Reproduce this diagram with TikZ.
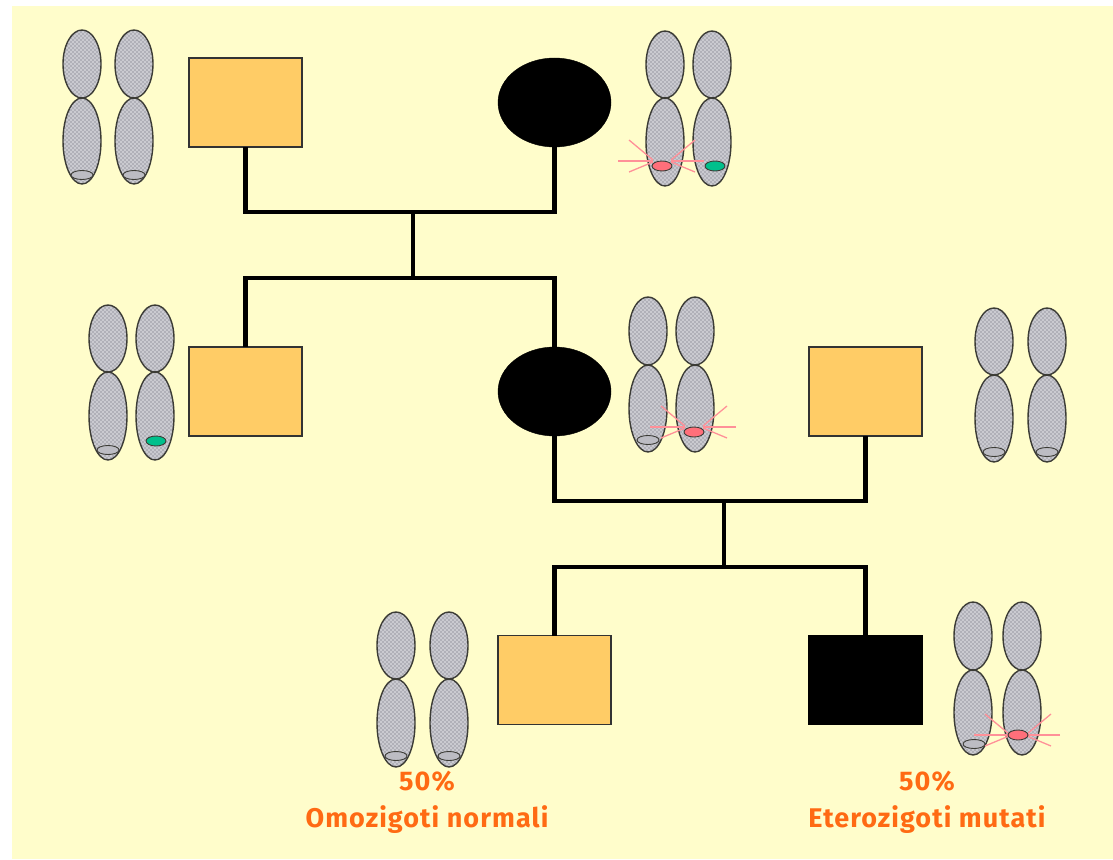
\documentclass[tikz,border=0pt]{standalone}
\usepackage{fontspec}
\setmainfont{Fira Sans}
\newfontfamily\captionfont[LetterSpace=4]{Fira Sans}
\usetikzlibrary{patterns,positioning,shapes.geometric}
\definecolor{paper}{HTML}{FFFDCB}
\definecolor{tan}{HTML}{FFCC66}
\definecolor{orangetxt}{HTML}{FF6A13}
\definecolor{chromfill}{HTML}{B0B0B8}
\definecolor{chromdot}{HTML}{E6E6EA}
\definecolor{chromline}{HTML}{3C3C36}
\definecolor{rayred}{HTML}{FF9098}
\definecolor{mutred}{HTML}{FF6F7A}
\definecolor{mutgreen}{HTML}{00C08C}
\pgfdeclarepatternformonly{chromdots}{\pgfqpoint{-0.5pt}{-0.5pt}}{\pgfqpoint{4.5pt}{4.5pt}}{\pgfqpoint{4pt}{4pt}}{%
  \pgfpathcircle{\pgfqpoint{1pt}{1pt}}{0.95pt}%
  \pgfpathcircle{\pgfqpoint{3pt}{3pt}}{0.95pt}%
  \pgfusepath{fill}}
\tikzset{
  x=1pt,y=-1pt,
  male/.style={draw=black!80,line width=1.6pt,fill=tan,minimum width=113pt,minimum height=89pt,inner sep=0pt,outer sep=0pt},
  malefilled/.style={male,fill=black,draw=black},
  female/.style={ellipse,draw=black,fill=black,minimum width=113pt,minimum height=89pt,inner sep=0pt,outer sep=0pt},
  link/.style={line width=4.6pt,draw=black,line cap=butt,line join=miter},
  caption/.style={text=orangetxt,font=\captionfont\bfseries\fontsize{27}{37}\selectfont,align=center,inner sep=0pt},
  arm/.style={draw=chromline,line width=1.4pt,fill=chromfill},
  armdots/.style={pattern=chromdots,pattern color=chromdot,draw=none},
  band/.style={draw=chromline,line width=.9pt},
  ray/.style={draw=rayred,line width=1.3pt}
}
% one chromosome: centre x, top of short arm, centromere, bottom of long arm
\newcommand{\chromosome}[4]{%
  \path[arm] (#1,{(#2+#3)/2}) ellipse [x radius=19,y radius={(#3-#2)/2}];
  \path[arm] (#1,{(#3+#4)/2}) ellipse [x radius=19,y radius={(#4-#3)/2}];
  \path[armdots] (#1,{(#2+#3)/2}) ellipse [x radius=18,y radius={(#3-#2)/2-1}];
  \path[armdots] (#1,{(#3+#4)/2}) ellipse [x radius=18,y radius={(#4-#3)/2-1}];
}
% normal allele: flat band near the end of the long arm
\newcommand{\normalband}[2]{%
  \path[band,fill=chromfill!85] (#1,#2) ellipse [x radius=11,y radius=4.5];}
% recessive marker
\newcommand{\greenband}[2]{%
  \path[band,fill=mutgreen] (#1,#2) ellipse [x radius=10,y radius=5];}
% dominant mutation: x, y of the band, y where its radiating lines meet
\newcommand{\redband}[3]{%
  \foreach \dy/\ey in {-21/-1,11/1}{
    \path[ray] ({#1-33},{#3+\dy}) -- ({#1-9},{#3+\ey});
    \path[ray] ({#1+33},{#3+\dy}) -- ({#1+9},{#3+\ey});
  }
  \path[ray] ({#1-44},#3) -- ({#1-9},#3);
  \path[ray] ({#1+42},#3) -- ({#1+9},#3);
  \path[band,fill=mutred] (#1,#2) ellipse [x radius=10,y radius=5];}
\begin{document}
\begin{tikzpicture}
\useasboundingbox (0,0) rectangle (1113,859);
\fill[white] (0,0) rectangle (1113,859);
\fill[paper] (12,6) rectangle (1113,859);

% individuals
\node[male]       (grandfather) at (245.5,102.5) {};
\node[female]     (grandmother) at (554.5,102.5) {};
\node[male]       (uncle)       at (245.5,391.5) {};
\node[female]     (mother)      at (554.5,391.5) {};
\node[male]       (father)      at (865.5,391.5) {};
\node[male]       (son)         at (554.5,680) {};
\node[malefilled] (carrier)     at (865.5,680) {};

% couple and sibling lines
\coordinate (c1) at (413,212);
\coordinate (s1) at (413,278);
\coordinate (c2) at (724,501);
\coordinate (s2) at (724,567);
\draw[link] (grandfather.south) |- (c1) -| (grandmother.south);
\draw[link] (c1) -- (s1);
\draw[link] (uncle.north) |- (s1) -| (mother.north);
\draw[link] (mother.south) |- (c2) -| (father.south);
\draw[link] (c2) -- (s2);
\draw[link] (son.north) |- (s2) -| (carrier.north);

% chromosome pairs
\chromosome{82}{30}{98}{184}\chromosome{134}{30}{98}{184}
\normalband{82}{175}\normalband{134}{175}

\chromosome{665}{31}{98}{186}\chromosome{712}{31}{98}{186}
\greenband{715}{166}\redband{662}{166}{161}

\chromosome{108}{305}{372}{460}\chromosome{155}{305}{372}{460}
\normalband{108}{450}\greenband{156}{441}

\chromosome{648}{297}{365}{452}\chromosome{695}{297}{365}{452}
\normalband{648}{440}\redband{694}{432}{427}

\chromosome{994}{308}{375}{462}\chromosome{1047}{308}{375}{462}
\normalband{994}{452}\normalband{1047}{452}

\chromosome{396}{612}{679}{767}\chromosome{449}{612}{679}{767}
\normalband{396}{756}\normalband{449}{756}

\chromosome{973}{602}{670}{755}\chromosome{1022}{602}{670}{755}
\normalband{974}{744}\redband{1018}{735}{735}

% percentages
\node[caption] (leftlabel)  at (427,802) {50\%\\Omozigoti\ normali};
\node[caption] (rightlabel) at (927,802) {50\%\\Eterozigoti\ mutati};
\end{tikzpicture}
\end{document}
